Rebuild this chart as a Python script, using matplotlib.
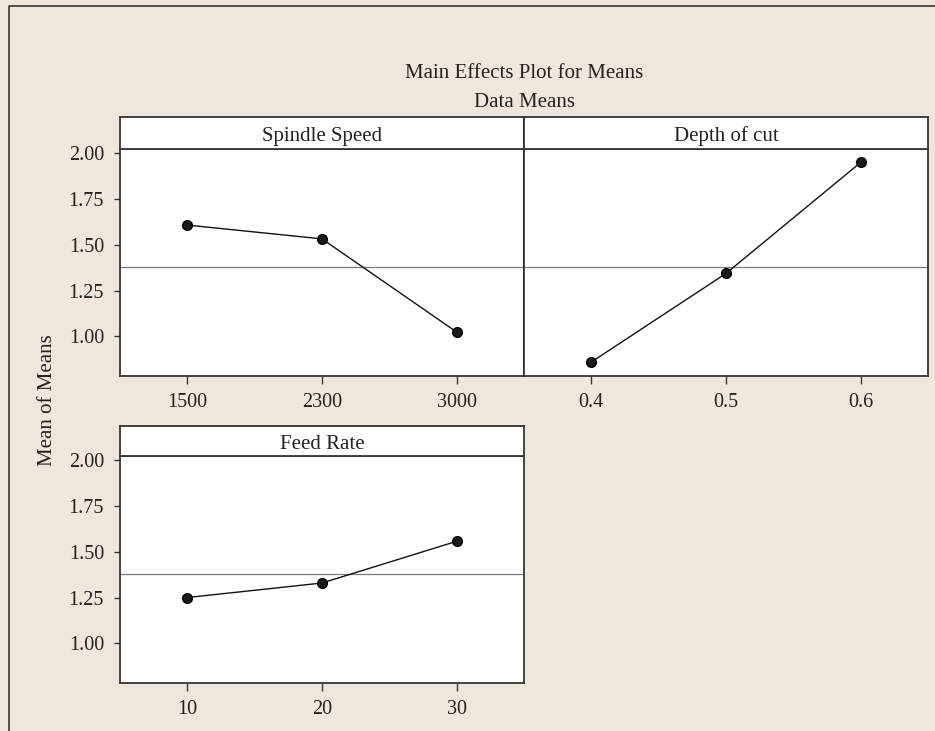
import matplotlib
matplotlib.use('Agg')
import matplotlib.pyplot as plt
from matplotlib.lines import Line2D

W, H = 935, 731
DPI = 100

# ---- data ----
factors = ["Spindle Speed", "Depth of cut", "Feed Rate"]
spindle_levels = ["1500", "2300", "3000"]
spindle_means = [1.606, 1.531, 1.024]
depth_levels = ["0.4", "0.5", "0.6"]
depth_means = [0.861, 1.343, 1.947]
feed_levels = ["10", "20", "30"]
feed_means = [1.250, 1.329, 1.556]
grand_mean = 1.377
y_ticks = [1.00, 1.25, 1.50, 1.75, 2.00]
y_tick_labels = ["1.00", "1.25", "1.50", "1.75", "2.00"]

plt.rcParams['font.family'] = ['Liberation Serif', 'DejaVu Serif']

BG = '#efe7db'
EDGE = '#353535'
TXT = '#222222'

fig = plt.figure(figsize=(W / DPI, H / DPI), dpi=DPI, facecolor=BG)


def px_rect(l, t, r, b):
    return [l / W, 1 - b / H, (r - l) / W, (b - t) / H]


panels = [
    (factors[0], spindle_levels, spindle_means, (120, 149, 524, 376), 117, True),
    (factors[1], depth_levels, depth_means, (524, 149, 928, 376), 117, False),
    (factors[2], feed_levels, feed_means, (120, 456, 524, 683), 425.5, True),
]

for name, levels, means, (l, t, r, b), st, show_y in panels:
    ax = fig.add_axes(px_rect(l, t, r, b))
    ax.set_facecolor('white')
    pos = list(range(1, len(levels) + 1))
    ax.axhline(grand_mean, color='#7a7a7a', lw=0.9, zorder=1)
    ax.plot(pos, means, color='#111111', lw=1.0, marker='o', markersize=7,
            markerfacecolor='#1a1a1a', markeredgecolor='#000000', zorder=3)
    ax.set_xlim(0.5, 3.5)
    ax.set_ylim(0.785, 2.02)
    ax.set_xticks(pos)
    ax.set_xticklabels(levels, fontsize=14.5, color=TXT)
    ax.tick_params(axis='x', direction='out', length=6, width=1.0,
                   color=EDGE, pad=6)
    if show_y:
        ax.set_yticks(y_ticks)
        ax.set_yticklabels(y_tick_labels, fontsize=14.5, color=TXT)
        ax.tick_params(axis='y', direction='out', length=4.5, width=1.0,
                       color=EDGE, pad=7)
    else:
        ax.set_yticks([])
    for sp in ax.spines.values():
        sp.set_color(EDGE)
        sp.set_linewidth(1.3)

    sax = fig.add_axes(px_rect(l, st, r, t))
    sax.set_facecolor('white')
    sax.set_xticks([])
    sax.set_yticks([])
    for sp in sax.spines.values():
        sp.set_color(EDGE)
        sp.set_linewidth(1.3)
    sax.text(0.5, 0.24, name, transform=sax.transAxes, ha='center',
             va='baseline', fontsize=15, color=TXT)

# titles
fig.text(524 / W, 1 - 78.3 / H, "Main Effects Plot for Means", ha='center',
         va='baseline', fontsize=15, color=TXT)
fig.text(524 / W, 1 - 107.3 / H, "Data Means", ha='center', va='baseline',
         fontsize=15, color=TXT)
fig.text(47 / W, 1 - 400 / H, "Mean of Means", ha='center', va='center',
         rotation=90, fontsize=15, color=TXT)

# outer frame (top and left)
fig.add_artist(Line2D([8.5 / W, 8.5 / W, 1.0], [0.0, 1 - 6 / H, 1 - 6 / H],
                      transform=fig.transFigure, color='#3a3a3a', lw=1.2))

fig.savefig('out.png', dpi=DPI, facecolor=BG)
